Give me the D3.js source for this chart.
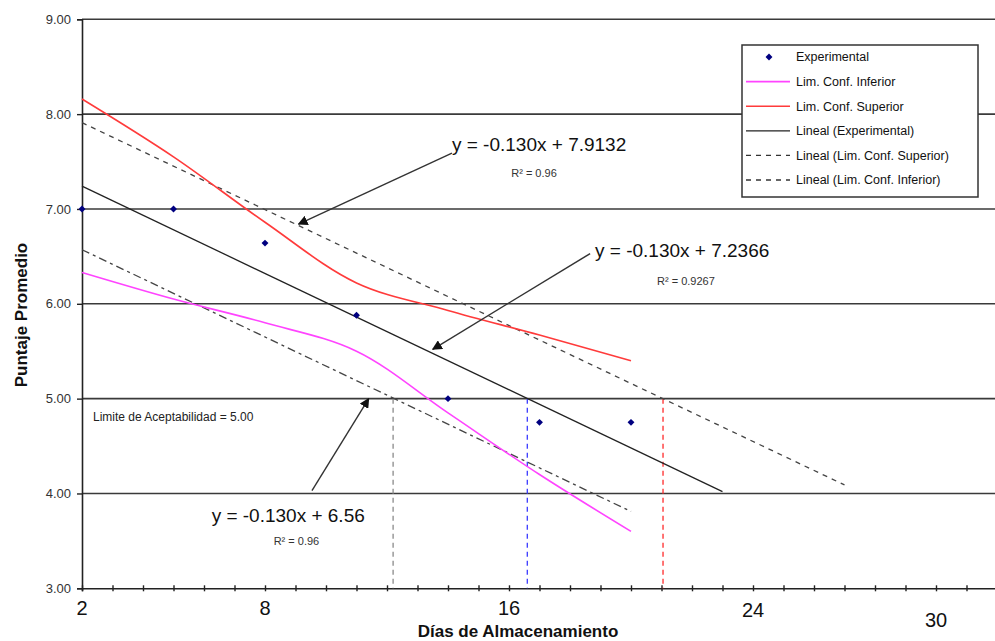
<!DOCTYPE html>
<html>
<head>
<meta charset="utf-8">
<script src="https://cdnjs.cloudflare.com/ajax/libs/d3/7.8.5/d3.min.js"></script>
<style>
body { margin: 0; background: #fff; }
svg { display: block; font-family: Arial, "Liberation Sans", sans-serif; }
</style>
</head>
<body>
<div id="chart"></div>
<script>
// datos
var dias = [2, 5, 8, 11, 14, 17, 20];
var puntaje = [7.00, 7.00, 6.64, 5.88, 5.00, 4.75, 4.75];
var limSuperior = [8.16, 7.55, 6.86, 6.22, 5.93, 5.67, 5.40];
var limInferior = [6.33, 6.05, 5.80, 5.50, 4.85, 4.20, 3.60];

// rectas de tendencia (inicio, fin)
var linealExp = [[2, 7.24], [23, 4.02]];
var linealSup = [[2, 7.91], [27, 4.09]];
var linealInf = [[2, 6.57], [20, 3.81]];

var yTicks = [3, 4, 5, 6, 7, 8, 9];
var xTickLabels = [2, 8, 16, 24, 30];
var limite = 5.00;
var cortes = [12.2, 16.6, 21.05];
var corteColors = ["#8a8a8a", "#3a3aff", "#ff2a2a"];

var ecuaciones = [
    {eq: "y = -0.130x + 7.9132", r2: "R\u00b2 = 0.96", ex: 14.13, ey: 7.607, rx: 16.82, ry: 7.34},
    {eq: "y = -0.130x + 7.2366", r2: "R\u00b2 = 0.9267", ex: 18.82, ey: 6.497, rx: 21.8, ry: 6.198},
    {eq: "y = -0.130x + 6.56", r2: "R\u00b2 = 0.96", ex: 6.25, ey: 3.70, rx: 9.03, ry: 3.456}
];
var flechas = [
    {x1: 14.13, y1: 7.59, x2: 9.1, y2: 6.84},
    {x1: 18.66, y1: 6.53, x2: 13.5, y2: 5.52},
    {x1: 9.54, y1: 4.03, x2: 11.4, y2: 5.0}
];

var legendItems = ["Experimental", "Lim. Conf. Inferior", "Lim. Conf. Superior",
    "Lineal (Experimental)", "Lineal (Lim. Conf. Superior)", "Lineal (Lim. Conf. Inferior)"];

var w = 995, h = 641;
var vis = d3.select("#chart").append("svg:svg").attr("width", w).attr("height", h);

var x = d3.scaleLinear().domain([2, 32]).range([82, 997]);
var y = d3.scaleLinear().domain([3, 9]).range([588.3, 19.3]);

// lineas horizontales
vis.append("g").selectAll("line").data(yTicks.slice(1)).enter().append("line")
    .attr("x1", x(2)).attr("x2", w)
    .attr("y1", function (d) { return y(d); }).attr("y2", function (d) { return y(d); })
    .style("stroke", "#3a3a3a").style("stroke-width", "1.6px");

// eje y
var yAxis = vis.append("g").attr("transform", "translate(" + x(2) + ",0)")
    .call(d3.axisLeft(y).tickValues(yTicks).tickSize(5).tickFormat(d3.format(".2f")));
yAxis.select(".domain").style("stroke", "#222").style("stroke-width", "1.6px");
yAxis.selectAll(".tick line").style("stroke", "#222").style("stroke-width", "1.4px");
yAxis.selectAll("text").attr("x", -11).style("font-size", "13px").style("fill", "#333")
    .style("font-family", "Arial, 'Liberation Sans', sans-serif");

// eje x
var xAxis = vis.append("g").attr("transform", "translate(0," + y(3) + ")")
    .call(d3.axisBottom(x).ticks(30).tickSize(3).tickFormat(""));
xAxis.select(".domain").style("stroke", "#222").style("stroke-width", "1.6px");
xAxis.selectAll(".tick line").attr("y1", -3).style("stroke", "#222").style("stroke-width", "1.4px");

var xLab = vis.append("g").selectAll("text").data(xTickLabels).enter().append("text")
    .attr("x", function (d) { return x(d); })
    .attr("y", function (d) {
        if (d == 24) return y(3) + 29;
        if (d == 30) return y(3) + 39;
        return y(3) + 27;
    })
    .attr("text-anchor", "middle").style("font-size", "20px").style("fill", "#111")
    .text(function (d) { return d; });

// lineas verticales de corte
vis.append("g").selectAll("line").data(cortes).enter().append("line")
    .attr("x1", function (d) { return x(d); }).attr("x2", function (d) { return x(d); })
    .attr("y1", y(limite)).attr("y2", y(3))
    .style("stroke", function (d, i) { return corteColors[i]; })
    .style("stroke-width", "1.3px").style("stroke-dasharray", "5,4");

var line = d3.line().x(function (d) { return x(d[0]); }).y(function (d) { return y(d[1]); });
var curve = d3.line().curve(d3.curveCatmullRom.alpha(0.5))
    .x(function (d) { return x(d[0]); }).y(function (d) { return y(d[1]); });

vis.append("path").attr("d", line(linealSup)).style("fill", "none")
    .style("stroke", "#444").style("stroke-width", "1.3px").style("stroke-dasharray", "5,5");
vis.append("path").attr("d", line(linealInf)).style("fill", "none")
    .style("stroke", "#444").style("stroke-width", "1.3px").style("stroke-dasharray", "8,4,3,4");
vis.append("path").attr("d", line(linealExp)).style("fill", "none")
    .style("stroke", "#222").style("stroke-width", "1.3px");

vis.append("path").attr("d", curve(dias.map(function (d, i) { return [d, limSuperior[i]]; })))
    .style("fill", "none").style("stroke", "#ff3b3b").style("stroke-width", "1.6px");
vis.append("path").attr("d", curve(dias.map(function (d, i) { return [d, limInferior[i]]; })))
    .style("fill", "none").style("stroke", "#ff44ff").style("stroke-width", "1.6px");

// puntos experimentales (cuadrado girado)
var diamond = d3.symbol().type(d3.symbolSquare).size(24);
vis.append("g").selectAll("path").data(dias).enter().append("path")
    .attr("d", diamond)
    .attr("transform", function (d, i) { return "translate(" + x(d) + "," + y(puntaje[i]) + ") rotate(45)"; })
    .style("fill", "#000080");

// flechas
vis.append("defs").append("marker").attr("id", "head")
    .attr("viewBox", "0 0 10 10").attr("refX", 9).attr("refY", 5)
    .attr("markerWidth", 10).attr("markerHeight", 10).attr("markerUnits", "userSpaceOnUse")
    .attr("orient", "auto")
    .append("path").attr("d", "M0,0 L10,5 L0,10 z").style("fill", "#111");

vis.append("g").selectAll("line").data(flechas).enter().append("line")
    .attr("x1", function (d) { return x(d.x1); }).attr("y1", function (d) { return y(d.y1); })
    .attr("x2", function (d) { return x(d.x2); }).attr("y2", function (d) { return y(d.y2); })
    .style("stroke", "#333").style("stroke-width", "1.4px").attr("marker-end", "url(#head)");

// ecuaciones
var eqs = vis.append("g").selectAll("g").data(ecuaciones).enter().append("g");
eqs.append("text").attr("x", function (d) { return x(d.ex); }).attr("y", function (d) { return y(d.ey); })
    .style("font-size", "19px").style("fill", "#111").text(function (d) { return d.eq; });
eqs.append("text").attr("x", function (d) { return x(d.rx); }).attr("y", function (d) { return y(d.ry); })
    .attr("text-anchor", "middle").style("font-size", "11px").style("fill", "#333")
    .text(function (d) { return d.r2; });

vis.append("text").attr("x", x(2.36)).attr("y", y(4.767))
    .style("font-size", "12px").style("fill", "#222").text("Limite de Aceptabilidad = 5.00");

// leyenda
var legend = vis.append("g").attr("class", "legend").attr("transform", "translate(742,45)");
legend.append("rect").attr("x", 0).attr("y", 0).attr("width", 236).attr("height", 152)
    .style("fill", "#fff").style("stroke", "#333").style("stroke-width", "1.5px");

var legendElts = legend.selectAll("g").data(legendItems).enter().append("g")
    .attr("transform", function (d, i) { return "translate(0," + (12 + i * 24.6) + ")"; });

legendElts.each(function (d, i) {
    var g = d3.select(this);
    if (i == 0) {
        g.append("path").attr("d", diamond).attr("transform", "translate(27,0) rotate(45)").style("fill", "#000080");
    } else {
        var col = ["", "#ff44ff", "#ff3b3b", "#222", "#333", "#333"][i];
        g.append("line").attr("x1", 4).attr("x2", 48).attr("y1", 0).attr("y2", 0)
            .style("stroke", col).style("stroke-width", i < 3 ? "1.6px" : "1.3px")
            .style("stroke-dasharray", i > 3 ? "5,5" : null);
    }
    g.append("text").attr("x", 54).attr("dy", ".35em").style("font-size", "12.5px")
        .style("fill", "#111").text(d);
});

// titulos
vis.append("text").attr("x", 518).attr("y", 637).attr("text-anchor", "middle")
    .style("font-size", "17px").style("font-weight", "bold").style("fill", "#111")
    .text("Días de Almacenamiento");
vis.append("text").attr("transform", "translate(27,315) rotate(-90)").attr("text-anchor", "middle")
    .style("font-size", "17px").style("font-weight", "bold").style("fill", "#111")
    .text("Puntaje Promedio");
</script>
</body>
</html>
